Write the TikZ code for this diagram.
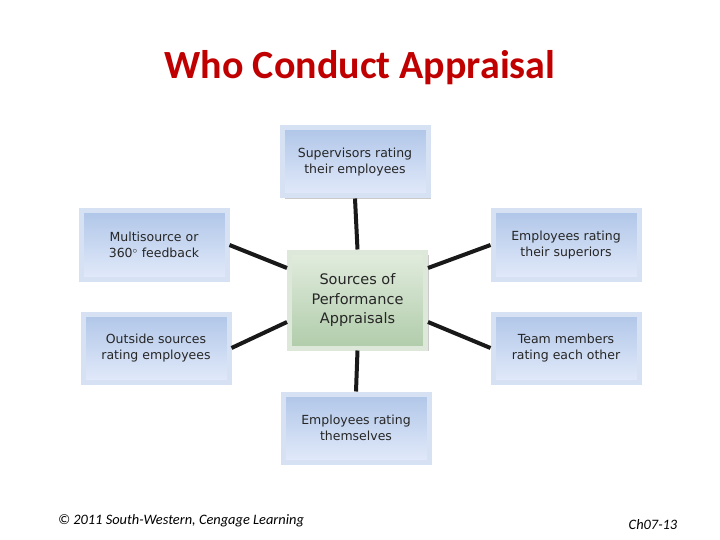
\documentclass[tikz,border=0pt]{standalone}
\usepackage{fontspec}
\usetikzlibrary{shadows}
\setmainfont{Carlito}
\newfontfamily\boxfont{DejaVu Sans}
\definecolor{btop}{RGB}{176,198,232}
\definecolor{bbot}{RGB}{226,234,250}
\definecolor{bframe}{RGB}{214,226,244}
\definecolor{gtop}{RGB}{226,236,222}
\definecolor{gbot}{RGB}{176,204,170}
\definecolor{gframe}{RGB}{222,232,218}
\definecolor{ttl}{RGB}{192,0,0}
\begin{document}
\begin{tikzpicture}[x=1pt,y=1pt,
 src/.style={minimum width=146pt,minimum height=68pt,draw=bframe,line width=5pt,
   top color=btop,bottom color=bbot,
   drop shadow={fill=gray!70,opacity=0.6,shadow xshift=3pt,shadow yshift=-3pt},
   font=\boxfont\fontsize{12.5}{16}\selectfont,align=center,text=black!85},
 ctr/.style={minimum width=136pt,minimum height=96pt,draw=gframe,line width=5pt,
   top color=gtop,bottom color=gbot,
   drop shadow={fill=gray!70,opacity=0.6,shadow xshift=3pt,shadow yshift=-3pt},
   font=\boxfont\fontsize{14.5}{19.5}\selectfont,align=center,text=black!85},
 conn/.style={line width=4pt,black!90}]
\useasboundingbox (0,0) rectangle (720,-540);
\node[ctr] (c) at (357.5,-300) {Sources of\\Performance\\Appraisals};
\node[src] (t) at (355,-162) {Supervisors rating\\their employees};
\node[src] (l1) at (154,-245) {Multisource or\\360$^{\circ}$ feedback};
\node[src] (r1) at (566,-245) {Employees rating\\their superiors};
\node[src] (l2) at (156,-348) {Outside sources\\rating employees};
\node[src] (r2) at (566,-348) {Team members\\rating each other};
\node[src] (b) at (356,-428) {Employees rating\\themselves};
\draw[conn] (t.south) -- (c.north);
\draw[conn] (c.south) -- (b.north);
\draw[conn] (l1.east) -- ([yshift=32pt]c.west);
\draw[conn] (l2.east) -- ([yshift=-22pt]c.west);
\draw[conn] (r1.west) -- ([yshift=32pt]c.east);
\draw[conn] (r2.west) -- ([yshift=-22pt]c.east);
\node[font=\bfseries\fontsize{40}{44}\selectfont,text=ttl] (title) at (360,-68) {Who Conduct Appraisal};
\node[font=\itshape\fontsize{14.4}{17}\selectfont] (foot) at (181,-521) {© 2011 South-Western, Cengage Learning};
\node[font=\itshape\fontsize{14.4}{17}\selectfont] (pg) at (653,-525) {Ch07-13};
\end{tikzpicture}
\end{document}
